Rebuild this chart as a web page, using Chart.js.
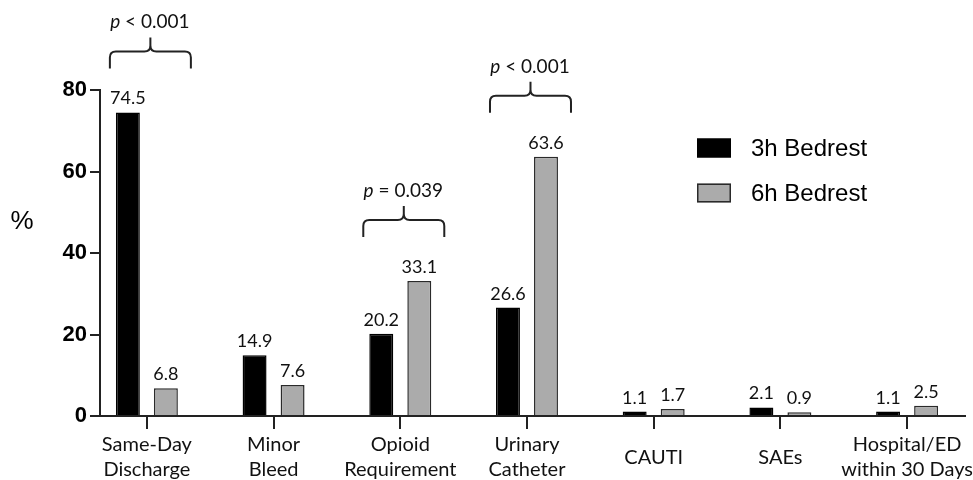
<!DOCTYPE html>
<html>
<head>
<meta charset="utf-8">
<script src="https://cdn.jsdelivr.net/npm/chart.js@4.4.1/dist/chart.umd.min.js"></script>
<style>
html, body { margin: 0; padding: 0; background: #fff; }
#wrap { width: 973px; height: 480px; }
</style>
</head>
<body>
<div id="wrap"><canvas id="chart"></canvas></div>
<script>
// chart values
var categories = [['Same-Day', 'Discharge'], ['Minor', 'Bleed'], ['Opioid', 'Requirement'], ['Urinary', 'Catheter'], 'CAUTI', 'SAEs', ['Hospital/ED', 'within 30 Days']];
var bedrest3h = [74.5, 14.9, 20.2, 26.6, 1.1, 2.1, 1.1];
var bedrest6h = [6.8, 7.6, 33.1, 63.6, 1.7, 0.9, 2.5];
var seriesNames = ['3h Bedrest', '6h Bedrest'];
var yTicks = [0, 20, 40, 60, 80];
var pCats = [0, 2, 3];
var pTexts = ['< 0.001', '= 0.039', '< 0.001'];

var LABEL_FONT = 'Lato, "Open Sans", sans-serif';
var ARIAL = '"Liberation Sans", Arial, sans-serif';

function points(vals) {
  return vals.map(function(v, i){ return { x: i, y: v }; });
}

// curly brace over a pair of bars
function drawBrace(ctx, x1, x2, yBottom) {
  var yLine = yBottom - 17, xm = (x1 + x2) / 2, r = 6, peak = 14;
  ctx.beginPath();
  ctx.moveTo(x1, yBottom);
  ctx.lineTo(x1, yLine + r);
  ctx.quadraticCurveTo(x1, yLine, x1 + r, yLine);
  ctx.lineTo(xm - r, yLine);
  ctx.quadraticCurveTo(xm, yLine, xm, yLine - r);
  ctx.lineTo(xm, yLine - peak);
  ctx.moveTo(xm, yLine - r);
  ctx.quadraticCurveTo(xm, yLine, xm + r, yLine);
  ctx.lineTo(x2 - r, yLine);
  ctx.quadraticCurveTo(x2, yLine, x2, yLine + r);
  ctx.lineTo(x2, yBottom);
  ctx.stroke();
  return yLine - peak;
}

var extras = {
  id: 'extras',
  afterDatasetsDraw: function(chart) {
    var ctx = chart.ctx, area = chart.chartArea;
    var xs = chart.scales.x, ys = chart.scales.y;
    ctx.save();

    // value labels
    ctx.fillStyle = '#111';
    ctx.font = '18px ' + LABEL_FONT;
    ctx.textAlign = 'center';
    ctx.textBaseline = 'alphabetic';
    chart.data.datasets.forEach(function(ds, d){
      chart.getDatasetMeta(d).data.forEach(function(bar, i){
        ctx.fillText(ds.data[i].y.toFixed(1), bar.x, bar.y - 8);
      });
    });

    // significance braces
    ctx.strokeStyle = '#222';
    ctx.lineWidth = 2;
    pCats.forEach(function(c, k){
      var xm = xs.getPixelForValue(c);
      var top = Math.max(bedrest3h[c], bedrest6h[c]);
      var yTop = drawBrace(ctx, xm - 37, xm + 44, ys.getPixelForValue(top) - 44);
      ctx.font = 'italic 19px ' + LABEL_FONT;
      var wp = ctx.measureText('p').width;
      ctx.font = '19px ' + LABEL_FONT;
      var rest = ' ' + pTexts[k];
      var wr = ctx.measureText(rest).width;
      var x0 = xm + 3 - (wp + wr) / 2;
      ctx.textAlign = 'left';
      ctx.font = 'italic 19px ' + LABEL_FONT;
      ctx.fillText('p', x0, yTop - 9);
      ctx.font = '19px ' + LABEL_FONT;
      ctx.fillText(rest, x0 + wp, yTop - 9);
    });

    // legend
    ctx.font = '24px ' + ARIAL;
    ctx.textAlign = 'left';
    ctx.textBaseline = 'middle';
    chart.data.datasets.forEach(function(ds, d){
      var bx = area.right - 268, by = 148 + d * 45;
      ctx.fillStyle = ds.backgroundColor;
      ctx.fillRect(bx, by - 9.5, 34, 19);
      ctx.strokeStyle = ds.borderColor;
      ctx.lineWidth = 1.5;
      ctx.strokeRect(bx + 0.75, by - 8.75, 32.5, 17.5);
      ctx.fillStyle = '#000';
      ctx.fillText(ds.label, bx + 54, by + 1);
    });

    // y axis title
    ctx.font = '26px ' + ARIAL;
    ctx.textAlign = 'center';
    ctx.fillText('%', 22, area.top + (area.bottom - area.top) * 0.405);
    ctx.restore();
  }
};

new Chart(document.getElementById('chart'), {
  type: 'bar',
  data: {
    datasets: [
      {
        label: seriesNames[0],
        data: points(bedrest3h),
        backgroundColor: '#000000',
        borderColor: '#000000',
        borderWidth: 1.5
      },
      {
        label: seriesNames[1],
        data: points(bedrest6h),
        backgroundColor: '#ababab',
        borderColor: '#2a2a2a',
        borderWidth: 1.5
      }
    ]
  },
  options: {
    responsive: true,
    maintainAspectRatio: false,
    animation: false,
    devicePixelRatio: 1,
    categoryPercentage: 0.6,
    barPercentage: 0.63,
    layout: { padding: { top: 90, right: 8, left: 0, bottom: 0 } },
    plugins: {
      legend: { display: false },
      tooltip: { enabled: false }
    },
    scales: {
      x: {
        type: 'linear',
        offset: false,
        min: -0.37,
        max: 6.457,
        afterBuildTicks: function(scale){
          scale.ticks = categories.map(function(c, i){ return { value: i }; });
        },
        afterFit: function(scale){
          scale.height = 64;
          scale.paddingLeft = 0;
          scale.paddingRight = 0;
        },
        grid: { display: true, offset: false, drawOnChartArea: false, drawTicks: true, tickLength: 13, lineWidth: 2, color: '#222' },
        border: { display: true, width: 2, color: '#222' },
        ticks: {
          autoSkip: false,
          maxRotation: 0,
          padding: 16,
          crossAlign: 'center',
          color: '#111',
          font: { family: LABEL_FONT, size: 20, lineHeight: 1.25 },
          callback: function(v, i){ return categories[i]; }
        }
      },
      y: {
        min: 0,
        max: 80,
        afterBuildTicks: function(scale){
          scale.ticks = yTicks.map(function(v){ return { value: v }; });
        },
        afterFit: function(scale){ scale.width = 100; },
        grid: { display: true, drawOnChartArea: false, drawTicks: true, tickLength: 10, lineWidth: 2, color: '#222' },
        border: { display: true, width: 2, color: '#222' },
        ticks: {
          padding: 3,
          color: '#000',
          font: { family: ARIAL, size: 22, weight: 'bold' }
        }
      }
    }
  },
  plugins: [extras]
});
</script>
</body>
</html>
